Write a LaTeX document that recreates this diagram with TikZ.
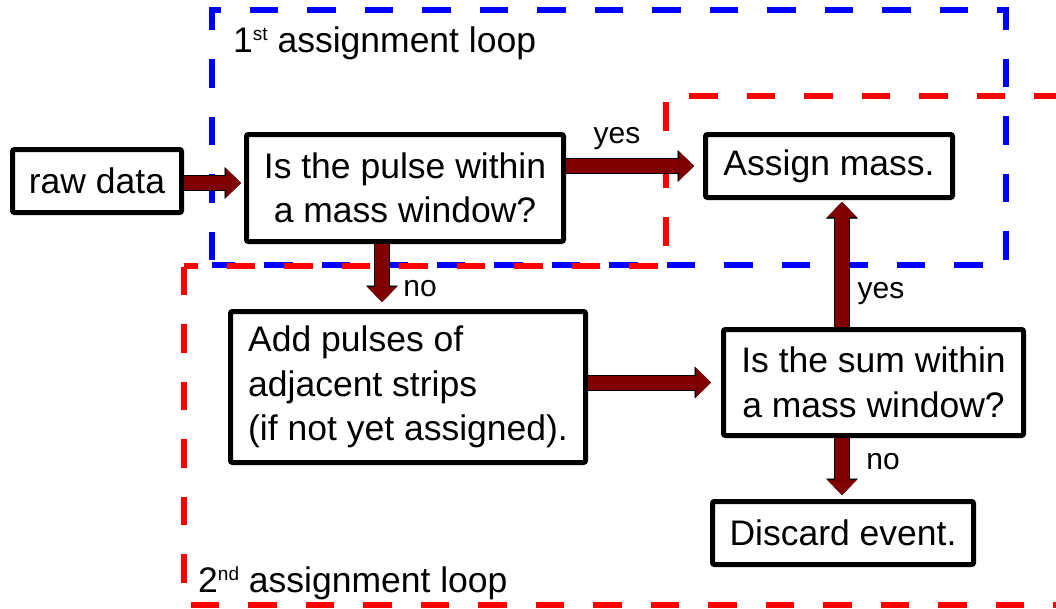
\documentclass[tikz,border=0pt]{standalone}
\usepackage{fontspec}
\setmainfont{Liberation Sans}
\usetikzlibrary{arrows.meta}
\definecolor{arrowred}{HTML}{800000}
\definecolor{loopblue}{HTML}{0000FF}
\definecolor{loopred}{HTML}{FF0000}
\newcommand{\myord}[1]{\raisebox{12pt}{\fontsize{19}{19}\selectfont #1}}
\tikzset{
  box/.style={draw=black, line width=5pt, rounded corners=2pt, fill=white, inner sep=0pt,
    font=\fontsize{35.5}{44.5}\selectfont, align=center},
  lbl/.style={inner sep=0pt, font=\fontsize{30}{36}\selectfont},
  looptext/.style={inner sep=0pt, anchor=base west, font=\fontsize{35.5}{44.5}\selectfont},
  fat/.style={draw=arrowred, line width=14pt,
    -{Triangle[length=15pt,width=29pt,line width=0.5pt]},
    preaction={draw=black, line width=16pt,
      -{Triangle[length=16.5pt,width=32pt,line width=0.5pt]}}},
  loopline/.style={line width=5.5pt, dash pattern=on 28.5pt off 29pt}
}
\begin{document}
\begin{tikzpicture}[x=1pt,y=-1pt]
\useasboundingbox (0,0) rectangle (1056,608);
% loops
\draw[loopline, draw=loopblue, dash phase=52.5pt] (212,265) -- (212,10) -- (1006,10) -- (1006,265) -- cycle;
\draw[loopline, draw=loopred, dash phase=15pt] (184,266) -- (666,266) -- (666,96) -- (1062,96) -- (1062,605) -- (184,605) -- cycle;
\node[looptext] (l1) at (233,52) {1\myord{st} assignment loop};
\node[looptext] (l2) at (198,592) {2\myord{nd} assignment loop};
% boxes
\node[box, minimum width=169pt, minimum height=63pt] (raw) at (97,181) {raw data};
\node[box, minimum width=317pt, minimum height=107pt] (q1) at (405,188) {Is the pulse within\\a mass window?};
\node[box, minimum width=247pt, minimum height=63pt] (assign) at (829,166) {Assign mass.};
\node[box, minimum width=355pt, minimum height=151pt, align=left] (add) at (408,387) {Add pulses of\\adjacent strips\\(if not yet assigned).};
\node[box, minimum width=300pt, minimum height=106pt] (q2) at (873.5,382.5) {Is the sum within\\a mass window?};
\node[box, minimum width=261pt, minimum height=63pt] (discard) at (843,533) {Discard event.};
% connectors
\draw[fat, shorten >=3pt] ([yshift=-2pt]raw.east) -- ([yshift=-2pt]raw.east -| q1.west);
\draw[fat, shorten >=9pt] (assign.west -| q1.east) -- (assign.west);
\draw[fat, shorten >=7pt] ([xshift=-23pt]q1.south) -- ([xshift=-23pt]q1.south |- add.north);
\draw[fat, shorten >=10pt] (add.east |- q2.west) -- (q2.west);
\draw[fat, shorten >=2pt] ([xshift=-31.5pt]q2.north) -- ([xshift=-31.5pt]q2.north |- assign.south);
\draw[fat, shorten >=4pt] ([xshift=-31.5pt]q2.south) -- ([xshift=-31.5pt]q2.south |- discard.north);
% labels
\node[lbl] (yes1) at (617,139) {yes};
\node[lbl] (no1) at (420,289) {no};
\node[lbl] (yes2) at (881,294) {yes};
\node[lbl] (no2) at (883,462) {no};
\end{tikzpicture}
\end{document}
